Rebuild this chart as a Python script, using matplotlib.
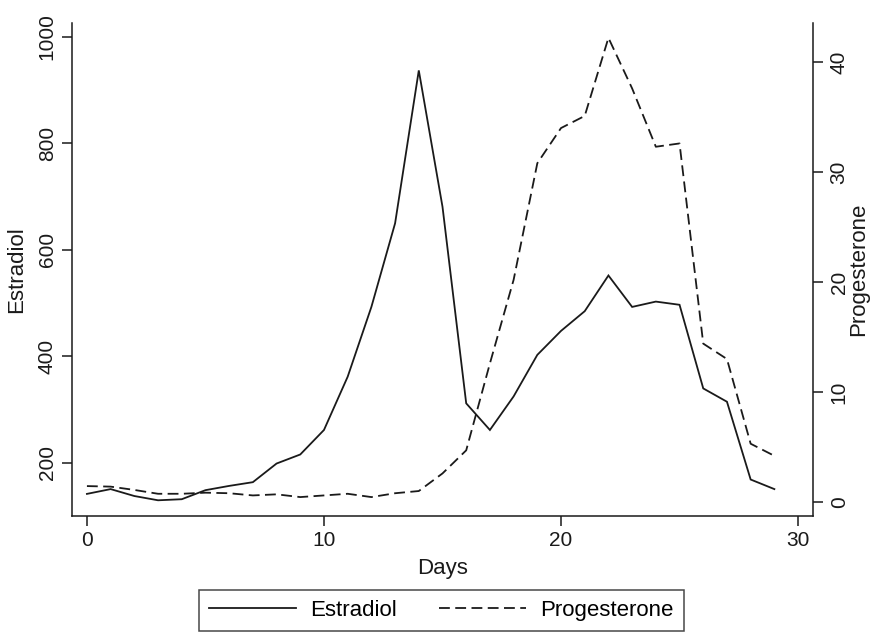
import matplotlib
matplotlib.use("Agg")
import matplotlib.pyplot as plt

days = list(range(30))
estradiol = [142, 151, 138, 130, 132, 149, 157, 164, 199, 216,
             262, 362, 493, 650, 937, 681, 312, 262, 325, 403,
             448, 485, 552, 493, 503, 497, 340, 315, 169, 151]
progesterone = [1.45, 1.4, 1.1, 0.75, 0.75, 0.85, 0.8, 0.6, 0.7, 0.45,
                0.6, 0.75, 0.45, 0.8, 1.0, 2.6, 4.7, 12.6, 20.2, 30.8,
                34.0, 35.1, 42.2, 37.6, 32.3, 32.6, 14.4, 13.0, 5.3, 4.2]
x_ticks = [0, 10, 20, 30]
e_ticks = [200, 400, 600, 800, 1000]
p_ticks = [0, 10, 20, 30, 40]

plt.rcParams['font.family'] = ['Liberation Sans', 'DejaVu Sans']
ink = '#1a1a1a'

W, H = 872, 632
fig = plt.figure(figsize=(W / 100, H / 100), dpi=100)
L, R, B, T = 72, 813, 516, 23
ax = fig.add_axes([L / W, 1 - B / H, (R - L) / W, (B - T) / H])
ax2 = ax.twinx()

ln1, = ax.plot(days, estradiol, color=ink, lw=1.3, solid_joinstyle='miter')
ln2, = ax2.plot(days, progesterone, color=ink, lw=1.3, linestyle=(0, (6, 3)))

ax.set_xlim(-0.63, 30.63)
ax.set_ylim(100.5, 1026)
ax2.set_ylim(-1.27, 43.55)

for a in (ax, ax2):
    a.spines['top'].set_visible(False)
    for s in a.spines.values():
        s.set_linewidth(1.1)
        s.set_color(ink)
ax.spines['right'].set_visible(False)
ax2.spines['left'].set_visible(False)
ax2.spines['bottom'].set_visible(False)

ax.set_xticks(x_ticks)
ax.set_yticks(e_ticks)
ax2.set_yticks(p_ticks)
ax.tick_params(axis='both', direction='out', length=7, width=1.1, colors=ink,
               labelsize=15, pad=4)
ax2.tick_params(axis='y', direction='out', length=7, width=1.1, colors=ink,
                labelsize=15, pad=5)
for lab in ax.get_yticklabels():
    lab.set_rotation(90)
    lab.set_va('center')
for lab in ax2.get_yticklabels():
    lab.set_rotation(90)
    lab.set_va('center')

ax.set_xlabel('Days', fontsize=16, color=ink)
ax.set_ylabel('Estradiol', fontsize=16, color=ink)
ax2.set_ylabel('Progesterone', fontsize=16, color=ink, rotation=90)
ax.xaxis.set_label_coords(0.5, -0.085)
ax.yaxis.set_label_coords(-0.061, 0.5)
ax2.yaxis.set_label_coords(1.047, 0.5)

leg = fig.legend([ln1, ln2], ['Estradiol', 'Progesterone'], ncol=2,
                 loc='lower center', bbox_to_anchor=(441.5 / W, 1 / H),
                 fontsize=16, frameon=True, fancybox=False, handlelength=3.9,
                 handletextpad=0.65, columnspacing=1.9, borderpad=0.45,
                 borderaxespad=0)
leg.get_frame().set_edgecolor(ink)
leg.get_frame().set_linewidth(1.1)

fig.savefig('out.png', dpi=100, facecolor='white')
